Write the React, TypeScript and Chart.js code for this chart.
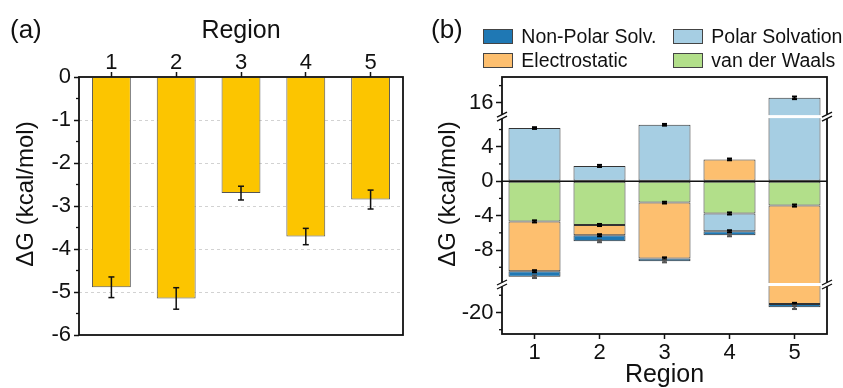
import React, { useEffect, useRef } from 'react';
import { Chart, registerables, LinearScale } from 'chart.js';

Chart.register(...registerables);

// ---------- data ----------
const REGIONS = ['1', '2', '3', '4', '5'];
// panel (a): total binding free energy per region
const TOTAL_DG = [-4.89, -5.15, -2.7, -3.71, -2.85];
const TOTAL_ERR = [0.24, 0.25, 0.16, 0.19, 0.22];
// panel (b): decomposition
const VDW = [-4.67, -5.09, -2.49, -3.75, -2.83];
const ELEC = [-5.79, -1.19, -6.48, 2.53, -16.2];
const POLAR = [6.17, 1.77, 6.55, -2.07, 16.58];
const NONPOLAR = [-0.64, -0.69, -0.34, -0.46, -0.37];
const VDW_ERR = [0.12, 0.12, 0.1, 0.12, 0.12];
const ELEC_ERR = [0.12, 0.12, 0.12, 0.1, 0.15];
const POLAR_ERR = [0.1, 0.12, 0.1, 0.12, 0.15];
const NONPOLAR_ERR = [0.15, 0.12, 0.12, 0.12, 0.2];
// axis ticks
const A_MINOR_TICKS = [-0.5, -1.5, -2.5, -3.5, -4.5, -5.5];
const B_MAJOR_TICKS = [-20, -8, -4, 0, 4, 16];
const B_MINOR_TICKS = [-22, -18, -10, -6, -2, 2, 6, 18];
// broken-axis value segments (bottom to top)
const B_SEGMENTS: [number, number][] = [
  [-22.5, -16.75],
  [-12, 7.5],
  [14.4, 19],
];

const FF = "'Liberation Sans', Arial, Helvetica, sans-serif";
const INK = '#111';
const fmt = (v: any) => String(Number(v));

// ---------- broken linear scale ----------
class BrokenLinearScale extends (LinearScale as any) {
  static id = 'brokenLinear';
  static defaults = {};
  getPixelForValue(value: number) {
    let total = 0;
    for (const [lo, hi] of B_SEGMENTS) total += hi - lo;
    let acc = 0;
    let done = false;
    for (const [lo, hi] of B_SEGMENTS) {
      if (value <= hi) {
        acc += Math.max(value, lo) - lo;
        done = true;
        break;
      }
      acc += hi - lo;
    }
    if (!done) acc = total;
    return (this as any).getPixelForDecimal(acc / total);
  }
  getValueForPixel(pixel: number) {
    let total = 0;
    for (const [lo, hi] of B_SEGMENTS) total += hi - lo;
    let u = (this as any).getDecimalForPixel(pixel) * total;
    for (const [lo, hi] of B_SEGMENTS) {
      if (u <= hi - lo) return lo + u;
      u -= hi - lo;
    }
    return B_SEGMENTS[B_SEGMENTS.length - 1][1];
  }
}
Chart.register(BrokenLinearScale as any);

function line(ctx: CanvasRenderingContext2D, x1: number, y1: number, x2: number, y2: number) {
  ctx.beginPath();
  ctx.moveTo(x1, y1);
  ctx.lineTo(x2, y2);
  ctx.stroke();
}

function errBar(ctx: CanvasRenderingContext2D, x: number, y1: number, y2: number, half: number) {
  line(ctx, x, y1, x, y2);
  line(ctx, x - half, y1, x + half, y1);
  line(ctx, x - half, y2, x + half, y2);
}

// ---------- plugins ----------
const panelAPlugin = {
  id: 'panelA',
  afterDraw(chart: any) {
    const { ctx, chartArea: ca } = chart;
    const y = chart.scales.y;
    const meta = chart.getDatasetMeta(0);
    ctx.save();
    ctx.strokeStyle = INK;
    ctx.lineWidth = 1.5;
    meta.data.forEach((bar: any, i: number) => {
      const v = TOTAL_DG[i];
      const e = TOTAL_ERR[i];
      errBar(ctx, bar.x, y.getPixelForValue(v - e), y.getPixelForValue(v + e), 3);
    });
    ctx.lineWidth = 1.3;
    A_MINOR_TICKS.forEach((v) => {
      const p = y.getPixelForValue(v);
      line(ctx, ca.left - 3, p, ca.left, p);
    });
    ctx.lineWidth = 1.8;
    ctx.strokeRect(ca.left, ca.top, ca.right - ca.left, ca.bottom - ca.top);
    ctx.restore();
  },
};

const panelBPlugin = {
  id: 'panelB',
  afterDraw(chart: any) {
    const { ctx, chartArea: ca } = chart;
    const y = chart.scales.y;
    ctx.save();
    // zero line
    ctx.strokeStyle = INK;
    ctx.lineWidth = 1.5;
    const p0 = y.getPixelForValue(0);
    line(ctx, ca.left, p0, ca.right, p0);
    // error marks at the end of each stacked segment
    const series = [VDW, ELEC, POLAR, NONPOLAR];
    const errs = [VDW_ERR, ELEC_ERR, POLAR_ERR, NONPOLAR_ERR];
    REGIONS.forEach((_, i) => {
      let pos = 0;
      let neg = 0;
      series.forEach((s, k) => {
        const v = s[i];
        let end;
        if (v >= 0) {
          pos += v;
          end = pos;
        } else {
          neg += v;
          end = neg;
        }
        const x = chart.getDatasetMeta(k).data[i].x;
        const e = errs[k][i];
        ctx.strokeStyle = k === 3 ? '#555' : '#000';
        ctx.lineWidth = 2;
        errBar(ctx, x, y.getPixelForValue(end - e), y.getPixelForValue(end + e), 2.5);
      });
    });
    // break bands
    const breaks = B_SEGMENTS.slice(0, -1).map((s) => y.getPixelForValue(s[1]));
    ctx.fillStyle = '#fff';
    breaks.forEach((p) => {
      ctx.fillRect(ca.left + 1, p - 1.5, ca.right - ca.left - 2, 3);
    });
    // frame
    ctx.strokeStyle = INK;
    ctx.lineWidth = 1.8;
    ctx.strokeRect(ca.left, ca.top, ca.right - ca.left, ca.bottom - ca.top);
    // minor ticks
    ctx.lineWidth = 1.3;
    B_MINOR_TICKS.forEach((v) => {
      const p = y.getPixelForValue(v);
      line(ctx, ca.left - 3, p, ca.left, p);
    });
    // break marks on both axes
    breaks.forEach((p) => {
      [ca.left, ca.right].forEach((ax) => {
        ctx.fillStyle = '#fff';
        ctx.fillRect(ax - 2, p - 2, 4, 4);
        ctx.strokeStyle = INK;
        ctx.lineWidth = 1.3;
        [-2, 2].forEach((d) => line(ctx, ax - 5, p + d + 2.5, ax + 5, p + d - 2.5));
      });
    });
    ctx.restore();
  },
};

function ChartCanvas({ config, width, height, left }: any) {
  const ref = useRef<HTMLCanvasElement>(null);
  useEffect(() => {
    if (!ref.current) return;
    const chart = new Chart(ref.current, config);
    return () => chart.destroy();
  }, []);
  return (
    <canvas
      ref={ref}
      width={width}
      height={height}
      style={{ position: 'absolute', left, top: 0, width, height }}
    />
  );
}

const tickFont = { family: FF, size: 22, lineHeight: 1 };
const titleFont = { family: FF, size: 25, lineHeight: 1 };

const configA: any = {
  type: 'bar',
  data: {
    labels: REGIONS,
    datasets: [
      {
        data: TOTAL_DG,
        backgroundColor: '#FCC500',
        borderColor: '#555',
        borderWidth: 1,
        borderSkipped: 'start',
        categoryPercentage: 1,
        barPercentage: 0.6,
      },
    ],
  },
  options: {
    responsive: false,
    animation: false,
    devicePixelRatio: 1,
    layout: { padding: { top: 0, right: 17, bottom: 53, left: 0 } },
    plugins: { legend: { display: false }, tooltip: { enabled: false } },
    scales: {
      x: {
        position: 'top',
        grid: { display: true, drawOnChartArea: false, offset: false, tickLength: 5, tickColor: INK, tickWidth: 1.5 },
        border: { display: false },
        ticks: { color: INK, font: tickFont, padding: -1.5, maxRotation: 0 },
        title: { display: true, text: 'Region', color: INK, font: titleFont, padding: { top: 18.5, bottom: 0 } },
        afterFit: (s: any) => {
          s.height = 77;
        },
      },
      y: {
        min: -6,
        max: 0,
        grid: {
          color: (c: any) => (c.tick && c.tick.value < 0 && c.tick.value > -6 ? '#d2d2d2' : 'rgba(0,0,0,0)'),
          lineWidth: 1,
          borderDash: [3, 3],
          tickLength: 5,
          tickColor: INK,
          tickWidth: 1.5,
        },
        border: { display: false, dash: [3, 3] },
        ticks: { stepSize: 1, color: INK, font: tickFont, padding: 3, callback: fmt },
        afterFit: (s: any) => {
          s.width = 79;
        },
      },
    },
  },
  plugins: [panelAPlugin],
};

const segStyle = { borderColor: '#333', borderWidth: 1, borderSkipped: false, categoryPercentage: 1, barPercentage: 0.8 };

const configB: any = {
  type: 'bar',
  data: {
    labels: REGIONS,
    datasets: [
      { label: 'van der Waals', data: VDW, backgroundColor: '#B2DF8A', ...segStyle },
      { label: 'Electrostatic', data: ELEC, backgroundColor: '#FDBF6F', ...segStyle },
      { label: 'Polar Solvation', data: POLAR, backgroundColor: '#A6CEE3', ...segStyle },
      { label: 'Non-Polar Solv.', data: NONPOLAR, backgroundColor: '#1F78B4', ...segStyle },
    ],
  },
  options: {
    responsive: false,
    animation: false,
    devicePixelRatio: 1,
    layout: { padding: { top: 77, right: 16, bottom: 0, left: 0 } },
    plugins: { legend: { display: false }, tooltip: { enabled: false } },
    scales: {
      x: {
        stacked: true,
        position: 'bottom',
        grid: { display: true, drawOnChartArea: false, offset: false, tickLength: 5, tickColor: INK, tickWidth: 1.5 },
        border: { display: false },
        ticks: { color: INK, font: tickFont, padding: 3, maxRotation: 0 },
        title: { display: true, text: 'Region', color: INK, font: titleFont, padding: { top: 0, bottom: 0.2 } },
        afterFit: (s: any) => {
          s.height = 54;
        },
      },
      y: {
        type: 'brokenLinear',
        stacked: true,
        min: -22.5,
        max: 19,
        afterBuildTicks: (s: any) => {
          s.ticks = B_MAJOR_TICKS.map((v) => ({ value: v }));
        },
        grid: { display: true, drawOnChartArea: false, tickLength: 6, tickColor: INK, tickWidth: 1.5 },
        border: { display: false },
        ticks: { color: INK, font: tickFont, padding: 2.5, autoSkip: false, callback: fmt },
        afterFit: (s: any) => {
          s.width = 82;
        },
      },
    },
  },
  plugins: [panelBPlugin],
};

const LEGEND = [
  { label: 'Non-Polar Solv.', color: '#1F78B4', sx: 483, sy: 29.3, tx: 521.3, base: 43.3 },
  { label: 'Polar Solvation', color: '#A6CEE3', sx: 672.7, sy: 29.3, tx: 711.3, base: 43.3 },
  { label: 'Electrostatic', color: '#FDBF6F', sx: 483, sy: 53.3, tx: 521.3, base: 67.7 },
  { label: 'van der Waals', color: '#B2DF8A', sx: 672.7, sy: 53.3, tx: 711.3, base: 67.7 },
];

function Txt({ x, base, size, children }: any) {
  return (
    <div
      style={{
        position: 'absolute',
        left: x,
        top: base - 0.8465 * size,
        fontSize: size,
        lineHeight: `${size}px`,
        fontFamily: FF,
        color: INK,
        whiteSpace: 'nowrap',
      }}
    >
      {children}
    </div>
  );
}

function YTitle({ cx, cy }: any) {
  return (
    <div
      style={{
        position: 'absolute',
        left: cx,
        top: cy,
        transform: 'translate(-50%, -50%) rotate(-90deg)',
        fontSize: 24,
        lineHeight: '24px',
        fontFamily: FF,
        color: INK,
        whiteSpace: 'nowrap',
      }}
    >
      ΔG (kcal/mol)
    </div>
  );
}

export default function App() {
  return (
    <div
      style={{
        position: 'fixed',
        left: 0,
        top: 0,
        width: 843,
        height: 388,
        background: '#fff',
        overflow: 'hidden',
      }}
    >
      <ChartCanvas config={configA} width={420} height={388} left={0} />
      <ChartCanvas config={configB} width={423} height={388} left={420} />
      <Txt x={10} base={37.7} size={26}>(a)</Txt>
      <Txt x={431} base={37.7} size={26}>(b)</Txt>
      <YTitle cx={24.7} cy={194} />
      <YTitle cx={446.7} cy={194} />
      {LEGEND.map((l) => (
        <React.Fragment key={l.label}>
          <div
            style={{
              position: 'absolute',
              left: l.sx,
              top: l.sy,
              width: 30,
              height: 15,
              boxSizing: 'border-box',
              background: l.color,
              border: '1px solid #444',
            }}
          />
          <Txt x={l.tx} base={l.base} size={19.5}>
            {l.label}
          </Txt>
        </React.Fragment>
      ))}
    </div>
  );
}
